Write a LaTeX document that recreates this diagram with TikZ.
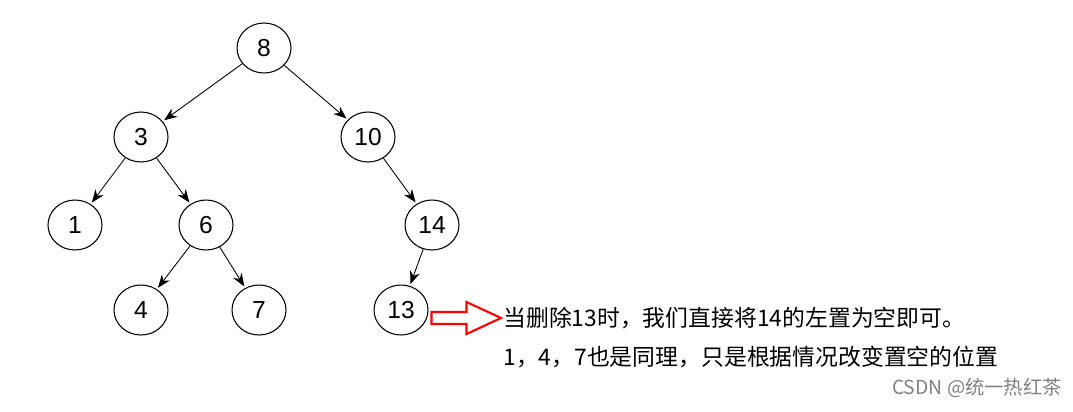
\documentclass[tikz,border=0pt]{standalone}
\usepackage{fontspec}
\setmainfont{Liberation Sans}
\newfontfamily\cjk{Noto Sans CJK SC}
\usetikzlibrary{arrows.meta,shapes.geometric,positioning,calc}

\begin{document}
\begin{tikzpicture}[
        uzel/.style={draw, ellipse, line width=0.6pt, minimum width=1.08cm,
            minimum height=1.0cm, inner sep=0pt, font=\fontsize{14}{16}\selectfont},
        hrana/.style={-{Stealth[length=2.6mm,width=2mm]}, line width=0.5pt, shorten >=1pt},
        popis/.style={anchor=west, inner sep=0pt, font=\cjk\fontsize{13}{15}\selectfont}
    ]
        \useasboundingbox (0,0) rectangle (21.46,-8.22);

        % strom
        \node[uzel] (n8) at (5.28,-0.96) {8};
        \node[uzel] (n3) at (2.82,-2.74) {3};
        \node[uzel] (n10) at (7.36,-2.74) {10};
        \node[uzel] (n1) at (1.50,-4.50) {1};
        \node[uzel] (n6) at (4.12,-4.50) {6};
        \node[uzel] (n14) at (8.64,-4.50) {14};
        \node[uzel] (n4) at (2.82,-6.20) {4};
        \node[uzel] (n7) at (5.18,-6.20) {7};
        \node[uzel] (n13) at (8.02,-6.20) {13};

        \draw[hrana] (n8) -- (n3);
        \draw[hrana] (n8) -- (n10);
        \draw[hrana] (n3) -- (n1);
        \draw[hrana] (n3) -- (n6);
        \draw[hrana] (n6) -- (n4);
        \draw[hrana] (n6) -- (n7);
        \draw[hrana] (n10) -- (n14);
        \draw[hrana] (n14) -- (n13);

        % popis
        \node[popis] (t1) at (10.06,-6.36) {当删除13时，我们直接将14的左置为空即可。};
        \node[popis] (t2) at (10.06,-7.14) {1，4，7也是同理，只是根据情况改变置空的位置};

        % cervena sipka
        \draw[red, line width=1.2pt]
        ($(n13.east)+(0.06,-0.04)$) coordinate (S)
        -- ++(0.70,0) -- ++(0,0.20) -- ($(t1.west)+(-0.04,0)$)
        -- ($(S)+(0.70,-0.44)$) -- ++(0,0.20) -- ++(-0.70,0) -- cycle;

        \node[text=gray, font=\cjk\fontsize{11}{13}\selectfont] (csdn) at (19.54,-7.76) {CSDN @统一热红茶};
    \end{tikzpicture}
\end{document}
